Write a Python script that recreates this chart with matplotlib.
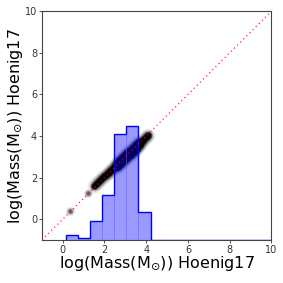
import numpy as np
import matplotlib
matplotlib.use("Agg")
import matplotlib.pyplot as plt

# histogram (bin edges and bar tops in axis units)
bin_edges = [0.17, 0.75, 1.32, 1.90, 2.48, 3.05, 3.63, 4.21, 4.79, 5.37,
             5.94, 6.52, 7.10, 7.68, 8.26, 8.83, 9.41, 10.0]
bar_tops = [-0.74, -0.90, -0.10, 1.15, 4.11, 4.50, 0.33, -1, -1, -1,
            -1, -1, -1, -1, -1, -1, -1]

# mass pairs (main group)
mass_x = [1.5, 1.6, 1.7, 1.8, 1.9, 2.0, 2.08, 2.15, 2.22, 2.3, 2.38,
          2.45, 2.52, 2.6, 2.66, 2.72, 2.8, 2.86, 2.92, 2.98, 3.04, 3.1, 3.16,
          3.22, 3.28, 3.34, 3.4, 3.46, 3.52, 3.58, 3.64, 3.7, 3.78, 3.86, 3.94,
          4.02, 4.1,
          2.55, 2.7, 2.85, 3.0, 3.15, 3.3, 3.45, 3.6,
          2.65, 2.8, 2.95, 3.1, 3.25, 3.4, 3.55, 3.7]
mass_y = [1.58, 1.68, 1.78, 1.88, 1.98, 2.08, 2.15, 2.22, 2.28, 2.35, 2.42,
          2.48, 2.55, 2.62, 2.66, 2.74, 2.8, 2.85, 2.9, 2.96, 3.02, 3.08, 3.12,
          3.18, 3.24, 3.3, 3.35, 3.42, 3.48, 3.53, 3.6, 3.66, 3.74, 3.82, 3.9,
          3.98, 4.05,
          2.72, 2.86, 3.0, 3.14, 3.28, 3.42, 3.56, 3.7,
          2.5, 2.65, 2.8, 2.95, 3.1, 3.25, 3.4, 3.55]
# two isolated low-mass objects
iso_x = [0.35, 1.2]
iso_y = [0.4, 1.28]

fig = plt.figure(figsize=(2.83, 2.83), dpi=100)
ax = fig.add_axes([0.148, 0.152, 0.811, 0.808])

# fuzzy points: stacked translucent markers
for s, a in [(110, 0.04), (75, 0.07), (48, 0.15), (28, 0.45), (16, 0.9)]:
    ax.scatter(mass_x, mass_y, s=s, c="k", alpha=a, lw=0, zorder=1)
for s, a in [(45, 0.08), (25, 0.2), (10, 0.45)]:
    ax.scatter(iso_x, iso_y, s=s, c="k", alpha=a, lw=0, zorder=1)

edges = np.array(bin_edges)
tops = np.array(bar_tops)
ax.bar(edges[:-1], tops + 1, width=np.diff(edges), bottom=-1, align="edge",
       color="b", alpha=0.4, lw=0.6, edgecolor=(0.4, 0.4, 1.0, 0.3), zorder=2)
ax.stairs(tops, edges, baseline=-1, color="b", lw=1.0, zorder=3)

ax.plot([-1, 10], [-1, 10], ls=(0, (1, 2.5)), color="red", alpha=0.85, lw=0.9, zorder=4)

ax.set_xlim(-1, 10)
ax.set_ylim(-1, 10)
ax.set_xticks([0, 2, 4, 6, 8, 10])
ax.set_yticks([0, 2, 4, 6, 8, 10])
ax.tick_params(labelsize=7, length=2, width=0.6, pad=1.5, colors="#333333")
for sp in ax.spines.values():
    sp.set_color("#444444")
    sp.set_linewidth(0.8)
ax.set_xlabel(r"log(Mass(M$_{\odot}$)) Hoenig17", fontsize=11.5, labelpad=0)
ax.set_ylabel(r"log(Mass(M$_{\odot}$)) Hoenig17", fontsize=11.5, labelpad=0)

fig.savefig("out.png", dpi=100)
